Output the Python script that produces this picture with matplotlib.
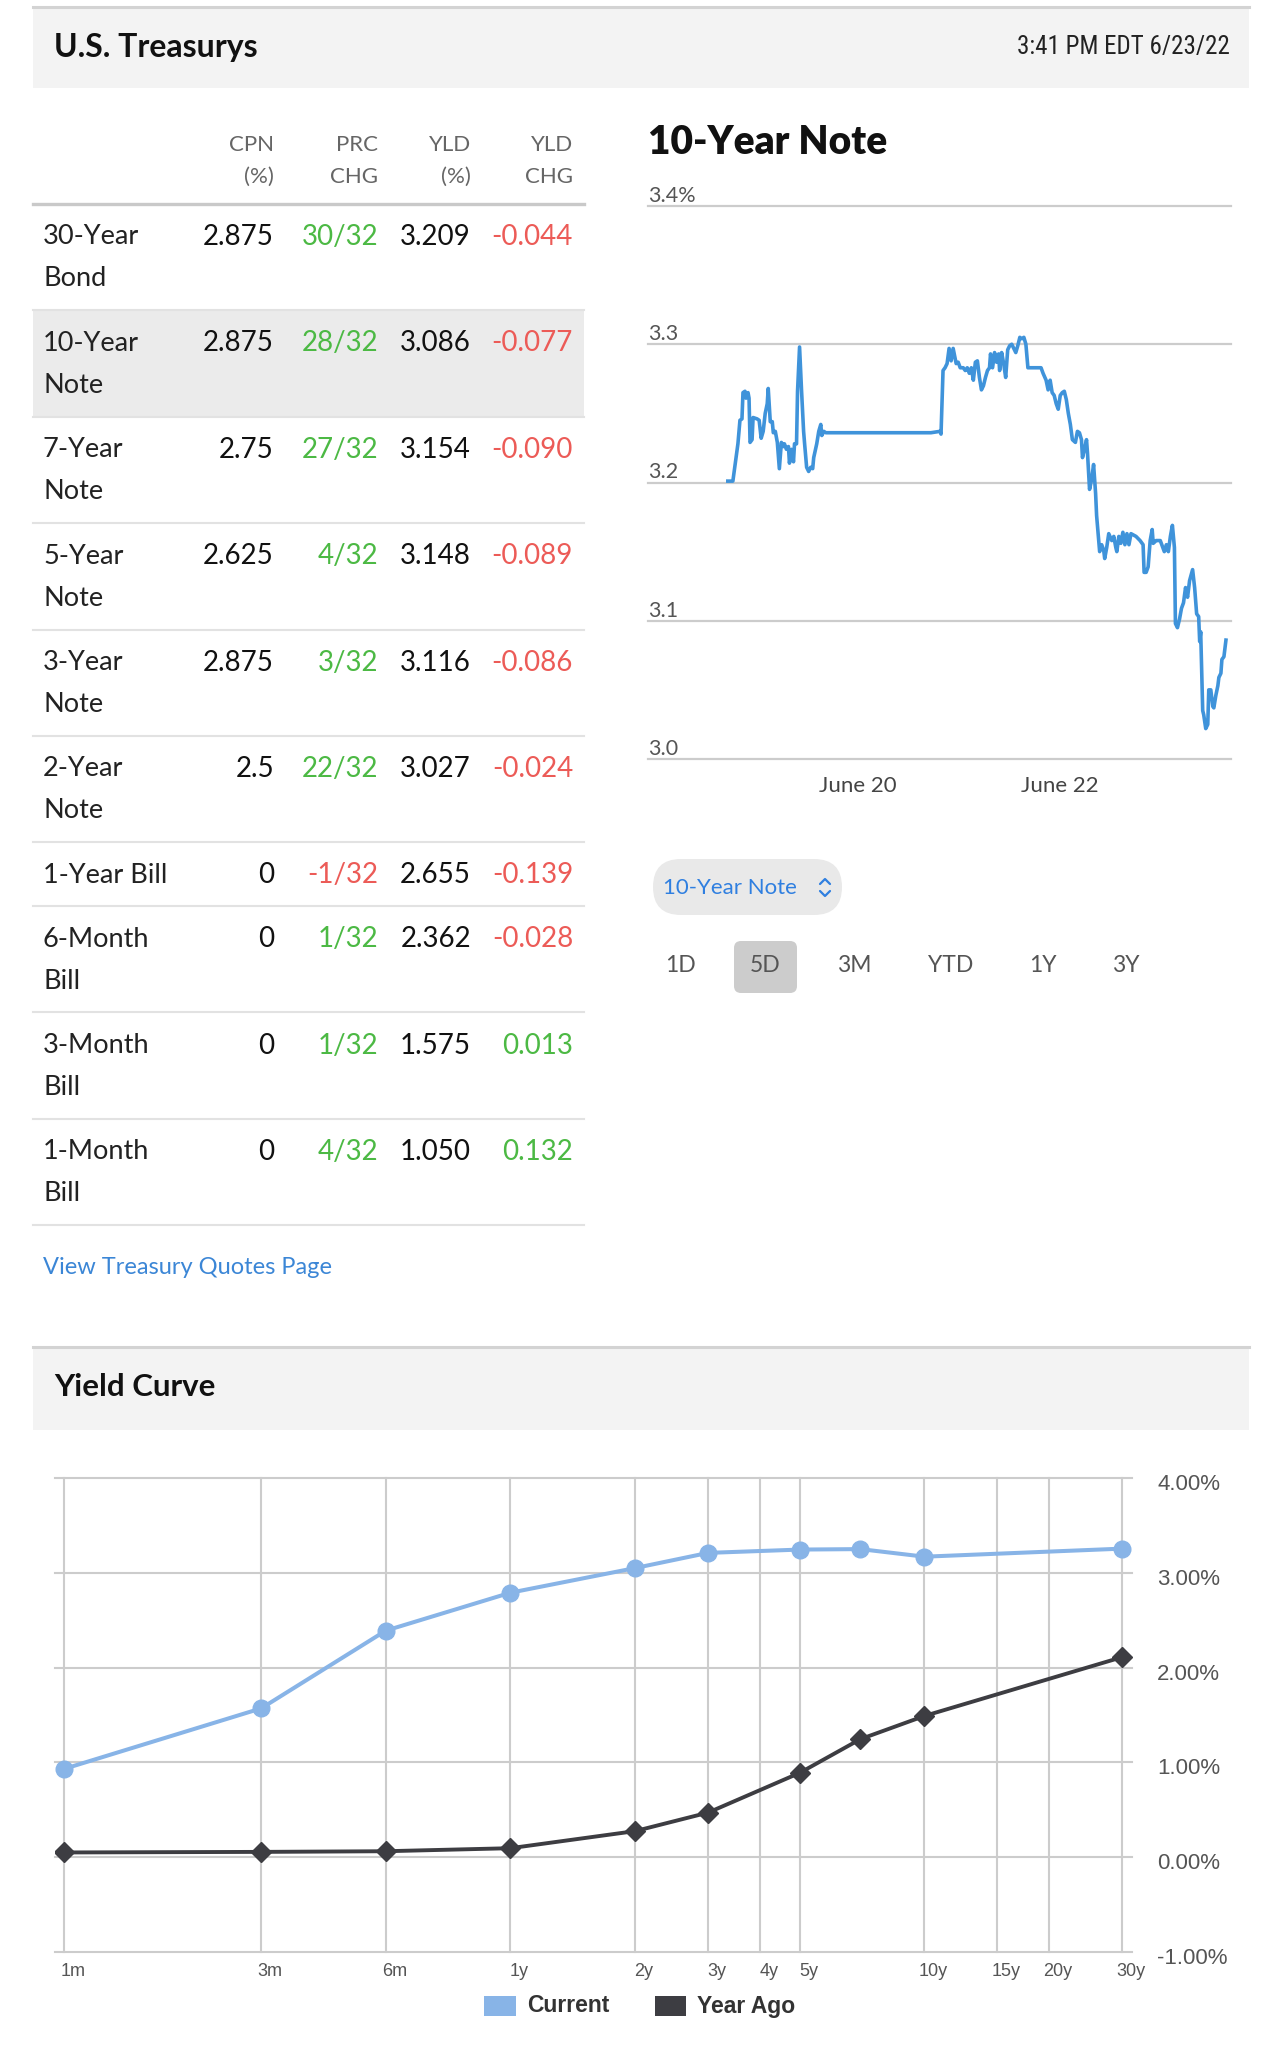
import matplotlib
matplotlib.use("Agg")
import matplotlib.pyplot as plt
from matplotlib.patches import Rectangle, FancyBboxPatch
from matplotlib.transforms import ScaledTranslation, blended_transform_factory
from matplotlib.ticker import NullLocator
from matplotlib import font_manager

# ---------------- data ----------------
timestamp = "3:41 PM EDT 6/23/22"

col_head_1 = ["CPN", "PRC", "YLD", "YLD"]
col_head_2 = ["(%)", "CHG", "(%)", "CHG"]
names = ["30-Year\nBond", "10-Year\nNote", "7-Year\nNote", "5-Year\nNote", "3-Year\nNote",
         "2-Year\nNote", "1-Year Bill", "6-Month\nBill", "3-Month\nBill", "1-Month\nBill"]
cpn = [2.875, 2.875, 2.75, 2.625, 2.875, 2.5, 0, 0, 0, 0]
prc_chg_32 = [30, 28, 27, 4, 3, 22, -1, 1, 1, 4]
yld = [3.209, 3.086, 3.154, 3.148, 3.116, 3.027, 2.655, 2.362, 1.575, 1.050]
yld_chg = [-0.044, -0.077, -0.090, -0.089, -0.086, -0.024, -0.139, -0.028, 0.013, 0.132]
highlight_row = 1

# 10-Year Note, 5 day intraday yield (x = days relative to June 20)
note_t = [-1.29, -1.24, -1.19, -1.17, -1.15, -1.14, -1.12, -1.11, -1.09, -1.08, -1.07, -1.05, -1.04,
          -1.00, -0.98, -0.96, -0.94, -0.92, -0.90, -0.89, -0.87, -0.85, -0.84, -0.82, -0.80, -0.78,
          -0.76, -0.74, -0.73, -0.71, -0.69, -0.68, -0.66, -0.64, -0.63, -0.61, -0.60, -0.58, -0.56,
          -0.54, -0.53, -0.51, -0.49, -0.47, -0.45, -0.44, -0.41, -0.39, -0.37, -0.36, -0.34, -0.32,
          0.72, 0.81, 0.82, 0.84, 0.86, 0.88, 0.90, 0.92, 0.94, 0.97, 0.99, 1.01, 1.04, 1.06, 1.08,
          1.10, 1.12, 1.14, 1.16, 1.18, 1.20, 1.22, 1.24, 1.26, 1.28, 1.30, 1.31, 1.33, 1.35, 1.37,
          1.39, 1.40, 1.42, 1.44, 1.46, 1.48, 1.50, 1.52, 1.54, 1.56, 1.58, 1.60, 1.62, 1.64, 1.66,
          1.68, 1.71, 1.75, 1.81, 1.83, 1.86, 1.88, 1.90, 1.92, 1.94, 1.96, 1.98, 2.00, 2.02, 2.04,
          2.06, 2.08, 2.10, 2.12, 2.15, 2.17, 2.19, 2.21, 2.22, 2.24, 2.26, 2.27, 2.29, 2.31, 2.33,
          2.35, 2.36, 2.39, 2.41, 2.43, 2.44, 2.46, 2.48, 2.51, 2.53, 2.55, 2.56, 2.58, 2.60, 2.62,
          2.64, 2.66, 2.68, 2.70, 2.75, 2.79, 2.82, 2.83, 2.85, 2.87, 2.89, 2.91, 2.92, 2.95, 2.99,
          3.00, 3.03, 3.05, 3.07, 3.09, 3.11, 3.13, 3.14, 3.16, 3.18, 3.20, 3.22, 3.24, 3.26, 3.28,
          3.31, 3.33, 3.35, 3.37, 3.38, 3.39, 3.41, 3.42, 3.44, 3.46, 3.47, 3.49, 3.51, 3.52, 3.54,
          3.56, 3.57, 3.59, 3.60, 3.62, 3.63, 3.64]
note_y = [3.201, 3.201, 3.228, 3.245, 3.246, 3.265, 3.266, 3.261, 3.265, 3.261, 3.229, 3.231, 3.247,
          3.246, 3.245, 3.232, 3.237, 3.250, 3.257, 3.268, 3.244, 3.244, 3.236, 3.237, 3.229, 3.210,
          3.229, 3.226, 3.228, 3.224, 3.226, 3.214, 3.224, 3.215, 3.228, 3.228, 3.266, 3.298, 3.266,
          3.237, 3.228, 3.211, 3.208, 3.211, 3.210, 3.218, 3.228, 3.237, 3.242, 3.234, 3.237, 3.236,
          3.236, 3.237, 3.235, 3.281, 3.283, 3.286, 3.297, 3.288, 3.297, 3.286, 3.287, 3.283, 3.283,
          3.281, 3.283, 3.279, 3.283, 3.274, 3.287, 3.288, 3.276, 3.267, 3.270, 3.276, 3.281, 3.283,
          3.293, 3.283, 3.294, 3.287, 3.293, 3.281, 3.294, 3.286, 3.276, 3.296, 3.299, 3.300, 3.297,
          3.294, 3.299, 3.305, 3.304, 3.305, 3.300, 3.283, 3.283, 3.283, 3.283, 3.279, 3.274, 3.267,
          3.274, 3.265, 3.263, 3.257, 3.253, 3.263, 3.265, 3.266, 3.260, 3.250, 3.242, 3.231, 3.229,
          3.237, 3.236, 3.231, 3.218, 3.224, 3.231, 3.221, 3.195, 3.202, 3.213, 3.192, 3.176, 3.150,
          3.155, 3.151, 3.145, 3.153, 3.163, 3.158, 3.161, 3.153, 3.150, 3.161, 3.156, 3.164, 3.155,
          3.163, 3.155, 3.163, 3.161, 3.158, 3.155, 3.135, 3.135, 3.139, 3.158, 3.166, 3.156, 3.158,
          3.158, 3.156, 3.150, 3.155, 3.150, 3.161, 3.169, 3.153, 3.098, 3.095, 3.101, 3.109, 3.113,
          3.124, 3.117, 3.129, 3.137, 3.124, 3.105, 3.103, 3.085, 3.092, 3.035, 3.032, 3.022, 3.025,
          3.050, 3.050, 3.038, 3.037, 3.046, 3.053, 3.059, 3.062, 3.072, 3.074, 3.080, 3.086]
note_xticks = [0, 2]
note_xlabels = ["June 20", "June 22"]
note_yticks = [3.0, 3.1, 3.2, 3.3, 3.4]
note_ylabels = ["3.0", "3.1", "3.2", "3.3", "3.4%"]

ranges = ["1D", "5D", "3M", "YTD", "1Y", "3Y"]
active_range = "5D"

# Yield curve (x = maturity in months)
curve_months = [1, 3, 6, 12, 24, 36, 60, 84, 120, 360]
curve_current = [0.93, 1.57, 2.39, 2.79, 3.05, 3.21, 3.245, 3.25, 3.17, 3.255]
curve_year_ago = [0.05, 0.056, 0.063, 0.095, 0.275, 0.47, 0.89, 1.245, 1.49, 2.11]
grid_months = [1, 3, 6, 12, 24, 36, 48, 60, 120, 180, 240, 360]
grid_labels = ["1m", "3m", "6m", "1y", "2y", "3y", "4y", "5y", "10y", "15y", "20y", "30y"]
curve_yticks = [-1, 0, 1, 2, 3, 4]

# ---------------- style ----------------
plt.rcParams['font.family'] = ['Lato', 'DejaVu Sans']
avail = {f.name for f in font_manager.fontManager.ttflist}
ARIAL = ['Liberation Sans', 'DejaVu Sans']
NARROW, NARROW_SIZE = ['Lato', 'DejaVu Sans'], 15.5
for cand, size in [('Roboto Condensed', 18), ('Liberation Sans Narrow', 20),
                   ('Open Sans Condensed', 18)]:
    if cand in avail:
        NARROW, NARROW_SIZE = [cand, 'DejaVu Sans'], size
        break

GREEN = '#4cb944'
RED = '#ec5b57'
BLUE_LINE = '#3f93da'
CUR = '#88b4e7'
AGO = '#3d3d42'
GRID = '#cccccc'

W, H = 1274, 2062
fig = plt.figure(figsize=(W / 100, H / 100), dpi=100)
bg = fig.add_axes([0, 0, 1, 1])
bg.set_xlim(0, W)
bg.set_ylim(H, 0)
bg.axis('off')


def fax(x0, y0, x1, y1):
    return [x0 / W, 1 - y1 / H, (x1 - x0) / W, (y1 - y0) / H]


# ---------- header ----------
bg.add_patch(Rectangle((33, 7), 1216, 81, fc='#f3f3f3', ec='none'))
bg.plot([33, 1249], [7, 7], color='#d3d3d3', lw=2.2)
bg.text(54, 47, "U.S. Treasurys", fontsize=23, weight='bold', va='center', color='#111')
bg.text(1230, 47, timestamp, fontsize=NARROW_SIZE, family=NARROW, ha='right', va='center', color='#222')

# ---------- table ----------
col_right = [274, 378, 471, 573]
for xr, h1, h2 in zip(col_right, col_head_1, col_head_2):
    bg.text(xr, 145, h1, ha='right', va='center', fontsize=16, color='#666')
    bg.text(xr, 177, h2, ha='right', va='center', fontsize=16, color='#666')
bg.plot([33, 584], [204, 204], color='#c9c9c9', lw=2.4)

y = 204
for i, name in enumerate(names):
    lines = name.split("\n")
    h = 21 + 42.7 * len(lines)
    if i == highlight_row:
        bg.add_patch(Rectangle((33, y), 551, h, fc='#ebebeb', ec='none'))
    for k, ln in enumerate(lines):
        bg.text(43, y + 33 + 42 * k, ln, va='center', fontsize=19.5, color='#222')
    vals = [f"{cpn[i]:g}", f"{prc_chg_32[i]}/32", f"{yld[i]:.3f}", f"{yld_chg[i]:.3f}"]
    cols = ['#111', GREEN if prc_chg_32[i] >= 0 else RED, '#111', GREEN if yld_chg[i] >= 0 else RED]
    for xr, v, c in zip(col_right, vals, cols):
        bg.text(xr, y + 33, v, ha='right', va='center', fontsize=20, color=c)
    y += h
    bg.plot([33, 584], [y, y], color='#e2e2e2', lw=1.5)

bg.text(43, 1268, "View Treasury Quotes Page", va='center', fontsize=17, color='#3b86d6')

# ---------- 10-year note chart ----------
bg.text(648, 143, "10-Year Note", fontsize=28, weight='heavy', va='center', color='#111')
ax1 = fig.add_axes(fax(648, 206, 1231, 759))
ax1.set_xlim(-2.08, 3.69)
ax1.set_ylim(3.0, 3.4)
for s in ax1.spines.values():
    s.set_visible(False)
ax1.set_yticks([])
tr = blended_transform_factory(ax1.transAxes, ax1.transData)
for v, lab in zip(note_yticks, note_ylabels):
    ax1.axhline(v, color=GRID, lw=1.6, clip_on=False, zorder=1)
    ax1.text(0, v, lab, transform=tr, ha='left', va='bottom', fontsize=15.5, color='#555')
ax1.plot(note_t, note_y, color=BLUE_LINE, lw=2.6, zorder=3)
ax1.set_xticks(note_xticks, note_xlabels)
ax1.tick_params(axis='x', length=0, pad=12, labelsize=16, labelcolor='#444')
ax1.patch.set_alpha(0)

# dropdown
bg.add_patch(FancyBboxPatch((653, 859), 189, 56, boxstyle="round,pad=0,rounding_size=28",
                            fc='#e9e9e9', ec='none'))
bg.text(663, 888, "10-Year Note", va='center', fontsize=16, color='#2f7fe0')
bg.plot([820, 825, 830], [884, 879, 884], color='#2f7fe0', lw=1.6, solid_capstyle='round')
bg.plot([820, 825, 830], [891, 896, 891], color='#2f7fe0', lw=1.6, solid_capstyle='round')

# range buttons
btn_x = [680, 765, 854, 951, 1043, 1126]
for bx, r in zip(btn_x, ranges):
    if r == active_range:
        bg.add_patch(FancyBboxPatch((bx - 31, 941), 63, 52, boxstyle="round,pad=0,rounding_size=7",
                                    fc='#cccccc', ec='none'))
    bg.text(bx, 966, r, ha='center', va='center', fontsize=16.5, color='#555')

# ---------- yield curve ----------
bg.add_patch(Rectangle((33, 1347), 1216, 83, fc='#f3f3f3', ec='none'))
bg.plot([33, 1249], [1347, 1347], color='#d3d3d3', lw=2.2)
bg.text(54, 1387, "Yield Curve", fontsize=22.5, weight='bold', va='center', color='#111')

ax2 = fig.add_axes(fax(55, 1478, 1132, 1952))
ax2.set_xscale('log')
ax2.set_xlim(0.953, 380.6)
ax2.set_ylim(-1, 4)
for s in ax2.spines.values():
    s.set_visible(False)
ax2.patch.set_alpha(0)
for v in curve_yticks:
    ax2.axhline(v, color=GRID, lw=1.5, clip_on=False, zorder=1)
for m in grid_months:
    ax2.axvline(m, color=GRID, lw=1.5, clip_on=False, zorder=1)
ax2.plot(curve_months, curve_year_ago, color=AGO, lw=2.8, marker='D', ms=10.5, zorder=3)
ax2.plot(curve_months, curve_current, color=CUR, lw=2.9, marker='o', ms=12, zorder=4)
ax2.xaxis.set_minor_locator(NullLocator())
ax2.set_xticks(grid_months, grid_labels)
ax2.yaxis.tick_right()
ax2.set_yticks(curve_yticks, [f"{v:.2f}%" for v in curve_yticks])
ax2.tick_params(axis='x', length=0, pad=8, labelsize=13, labelcolor='#555')
ax2.tick_params(axis='y', length=0, pad=18, labelsize=16, labelcolor='#555',
                labelright=True, labelleft=False)
for lab in ax2.get_xticklabels():
    lab.set_family(ARIAL)
    lab.set_transform(lab.get_transform() + ScaledTranslation(9 / 100, 0, fig.dpi_scale_trans))
for lab in ax2.get_yticklabels():
    lab.set_family(ARIAL)
    lab.set_transform(lab.get_transform() + ScaledTranslation(0, -4 / 100, fig.dpi_scale_trans))

# legend
bg.add_patch(Rectangle((484, 1996), 32, 20, fc=CUR, ec='none'))
bg.text(527, 2006, "Current", va='center', fontsize=16.5, weight='bold', family=ARIAL, color='#333')
bg.add_patch(Rectangle((655, 1996), 31, 20, fc=AGO, ec='none'))
bg.text(697, 2006, "Year Ago", va='center', fontsize=16.5, weight='bold', family=ARIAL, color='#333')

fig.savefig("out.png", dpi=100)
